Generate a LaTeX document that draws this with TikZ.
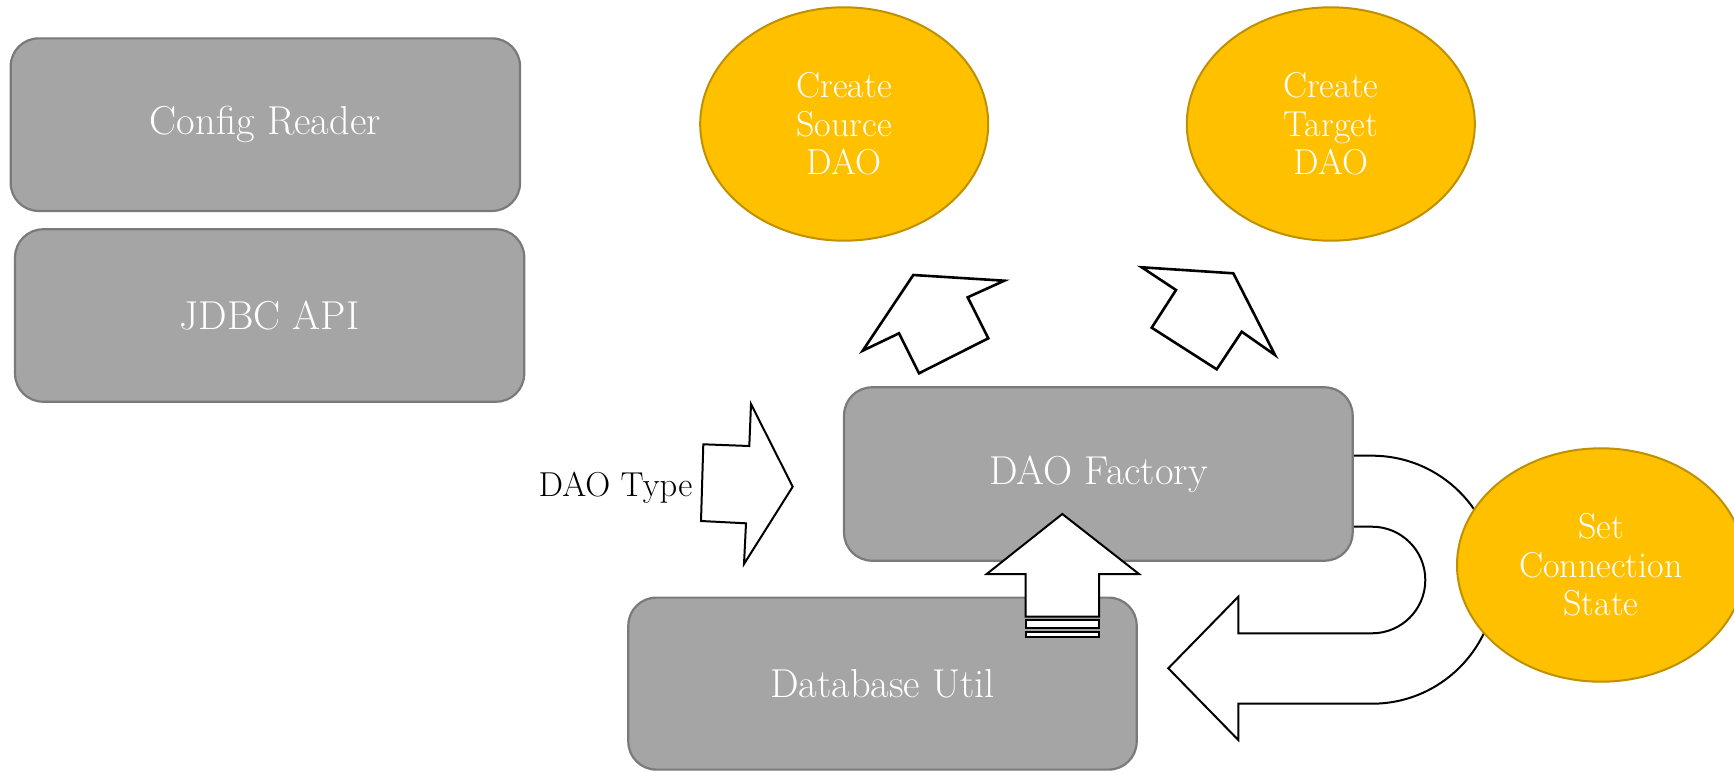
\documentclass[tikz,border=0pt]{standalone}
\usepackage{fontspec}
\usetikzlibrary{shapes.geometric}
\definecolor{boxfill}{HTML}{A5A5A5}
\definecolor{boxline}{HTML}{7A7A7A}
\definecolor{ovalfill}{HTML}{FFC000}
\definecolor{ovalline}{HTML}{BF9000}
\begin{document}
\begin{tikzpicture}[x=0.5pt,y=-0.5pt,
  box/.style={draw=boxline, line width=1.1pt, fill=boxfill, rounded corners=14pt,
    text=white, font=\fontsize{20.2}{24}\selectfont, inner sep=0pt, align=center},
  oval/.style={ellipse, draw=ovalline, line width=1pt, fill=ovalfill, text=white,
    font=\fontsize{18}{19.2}\selectfont, minimum width=144pt, minimum height=116.7pt,
    inner sep=0pt, align=center},
  blockarrow/.style={draw=black, line width=1pt, fill=white, line join=miter},
  thickarrow/.style={blockarrow, line width=1.3pt}]
\useasboundingbox (0,0) rectangle (1734,771);

% U-turn arrow (behind the factory box and the connection ellipse)
\draw[blockarrow] (1340,455.7) -- (1372,455.7)
  arc[start angle=-90, end angle=90, radius=124] -- (1238.3,703.7)
  -- (1238.3,740) -- (1168.3,668.3) -- (1238.3,596.7) -- (1238.3,633.3)
  -- (1372,633.3) arc[start angle=90, end angle=-90, radius=53.3]
  -- (1340,526.7) -- cycle;

% boxes
\node[box, minimum width=254.7pt, minimum height=86.3pt] (cfg) at (265.35,124.65) {Config Reader};
\node[box, minimum width=254.6pt, minimum height=86.2pt] (jdbc) at (269.65,315.5) {JDBC API};
\node[box, minimum width=254.3pt, minimum height=86.7pt] (fac) at (1098.35,474) {DAO Factory};
\node[box, minimum width=254.2pt, minimum height=86pt] (dbu) at (882.5,683.6) {Database Util};

% ellipses
\node[oval] (src) at (844.2,124) {Create\\Source\\DAO};
\node[oval] (tgt) at (1330.8,124) {Create\\Target\\DAO};
\node[oval] (conn) at (1601,565) {Set\\Connection\\State};

% label
\node[font=\fontsize{17.3}{20}\selectfont, anchor=base east, inner sep=0pt] (dtype) at (692.7,496.7) {DAO Type};

% DAO type arrow
\draw[blockarrow] (703.3,444.3) -- (749.3,446) -- (751,404) -- (792.7,486.7)
  -- (744,564) -- (746,523.3) -- (701,521) -- cycle;

% arrows towards the ellipses
\draw[thickarrow] (862.7,350.7) -- (913.3,275) -- (1004.3,280.7) -- (967.7,297.3)
  -- (988.3,338.3) -- (919,373.3) -- (899,333.3) -- cycle;
\draw[thickarrow] (1141.7,267.3) -- (1233.3,273.3) -- (1275,355) -- (1241.7,331.7)
  -- (1216.7,369.3) -- (1151.7,327.7) -- (1176,290) -- cycle;

% striped up arrow
\draw[blockarrow] (1062.3,514) -- (1139,574) -- (1099,574) -- (1099,616.7)
  -- (1025.7,616.7) -- (1025.7,574) -- (986.7,574) -- cycle;
\draw[blockarrow] (1025.7,620) rectangle (1099,628.3);
\draw[blockarrow] (1025.7,631.7) rectangle (1099,636.7);
\end{tikzpicture}
\end{document}
